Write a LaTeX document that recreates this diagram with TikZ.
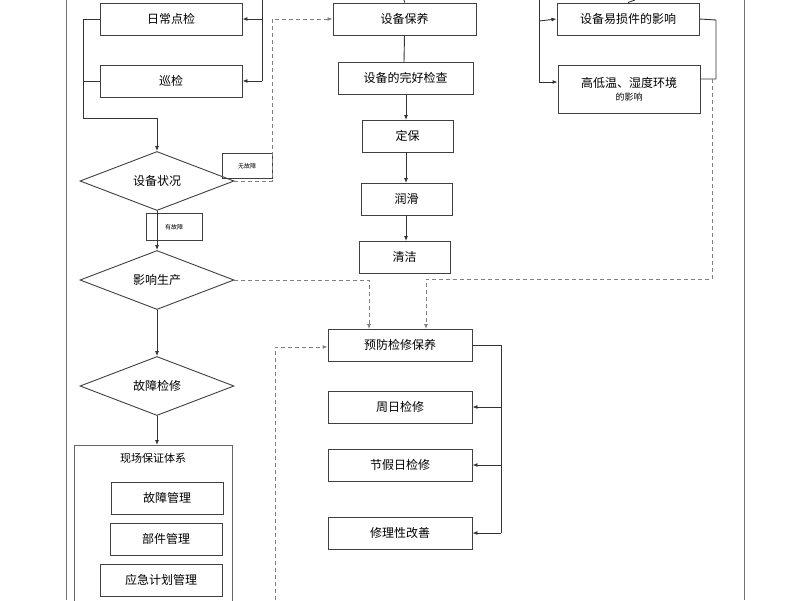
\documentclass[tikz,border=0pt]{standalone}
\usepackage{fontspec}
\setmainfont{Noto Sans CJK SC}
\usetikzlibrary{shapes.geometric,arrows.meta}
\begin{document}
\begin{tikzpicture}[x=1pt,y=-1pt,
  box/.style={draw=black!75,line width=0.9pt,inner sep=0pt,font=\fontsize{12}{14}\selectfont,align=center},
  dia/.style={draw=black!75,line width=0.9pt,diamond,aspect=2.6,inner sep=0pt,minimum width=154pt,minimum height=59pt,font=\fontsize{12}{14}\selectfont},
  lab/.style={draw=black!75,line width=0.8pt,inner sep=0pt,font=\fontsize{6}{7}\selectfont},
  ln/.style={draw=black!80,line width=0.9pt},
  ar/.style={ln,-{Latex[length=5pt,width=4pt]}},
  da/.style={draw=black!50,line width=0.9pt,dashed,dash pattern=on 4pt off 3pt},
  dar/.style={da,-{Latex[length=5pt,width=4pt]}}]
\useasboundingbox (0,0) rectangle (800,600);
\fill[white] (0,0) rectangle (800,600);
\draw[black!55,line width=0.8pt] (66,0)--(66,600);
\draw[black!55,line width=0.8pt] (744,0)--(744,600);
% left column
\node[box,minimum width=142pt,minimum height=32pt] (rc) at (171,19) {日常点检};
\node[box,minimum width=142pt,minimum height=32pt] (xj) at (171,81) {巡检};
\coordinate (t1) at (262,0);
\draw[ln] (t1)--(262,81);
\draw[ar] (262,19)--(rc.east);
\draw[ar] (262,81)--(xj.east);
\node[dia] (zk) at (157,181) {设备状况};
\draw[ln] (rc.west)--(83,19)--(83,118)--(157,118);
\draw[ln] (xj.west)--(83,81);
\draw[ar] (157,118)--(zk.north);
\node[lab,minimum width=50pt,minimum height=25pt] (wg) at (247,166) {无故障};
\node[lab,minimum width=56pt,minimum height=27pt] (yg) at (174,227) {有故障};
\node[dia] (yx) at (157,280) {影响生产};
\draw[ar] (zk.south)--(yx.north);
\node[dia] (gz) at (157,386) {故障检修};
\draw[ar] (yx.south)--(gz.north);
\draw[black!60,line width=0.8pt] (74,445) rectangle (232,605);
\coordinate (xc) at (157,445);
\draw[ar] (gz.south)--(xc);
\node[font=\fontsize{11}{13}\selectfont] (xct) at (153,458) {现场保证体系};
\node[box,minimum width=112pt,minimum height=32pt] (g1) at (167,498) {故障管理};
\node[box,minimum width=112pt,minimum height=32pt] (g2) at (166,539) {部件管理};
\node[box,minimum width=122pt,minimum height=32pt] (g3) at (161,580) {应急计划管理};
% middle column
\node[box,minimum width=143pt,minimum height=32pt] (by) at (404.5,19) {设备保养};
\draw[ln] (404,0)--(by.north);
\node[box,minimum width=135pt,minimum height=32pt] (wh) at (405.5,78) {设备的完好检查};
\node[box,minimum width=91pt,minimum height=32pt] (db) at (407.5,136) {定保};
\node[box,minimum width=91pt,minimum height=32pt] (rh) at (406.5,199) {润滑};
\node[box,minimum width=91pt,minimum height=32pt] (qj) at (404.5,257) {清洁};
\draw[ln] (by.south)--(404,62);
\draw[ar] (406,94)--(406,120);
\draw[ar] (406,152)--(406,183);
\draw[ar] (406,215)--(406,241);
\draw[dar] (zk.east)--(272,181)--(272,19)--(by.west);
% right column
\node[box,minimum width=142pt,minimum height=32pt] (ys) at (628,19) {设备易损件的影响};
\node[box,minimum width=142pt,minimum height=48pt] (gd) at (629,89) {高低温、湿度环境\\[-1pt]{\fontsize{9}{10}\selectfont 的影响}};
\draw[ln] (635,0)--(ys.north);
\draw[ln] (539,0)--(539,82);
\draw[ar] (539,21)--(ys.west);
\draw[ar] (539,82)--(gd.west|-539,82);
\draw[ln] (ys.east)--(716,20)--(716,79)--(700,79);
% preventive
\node[box,minimum width=144pt,minimum height=32pt] (yf) at (400,345) {预防检修保养};
\node[box,minimum width=144pt,minimum height=32pt] (zr) at (400,407) {周日检修};
\node[box,minimum width=144pt,minimum height=32pt] (jj) at (400,465) {节假日检修};
\node[box,minimum width=144pt,minimum height=32pt] (xl) at (400,533) {修理性改善};
\draw[ln] (yf.east)--(501,345)--(501,533);
\draw[ar] (501,407)--(zr.east);
\draw[ar] (501,465)--(jj.east);
\draw[ar] (501,533)--(xl.east);
\draw[dar] (yx.east)--(369,280)--(369,329);
\draw[dar] (712,79)--(712,279)--(426,279)--(426,329);
\coordinate (b1) at (275,600);
\draw[dar] (b1)--(275,347)--(yf.west|-275,347);
\end{tikzpicture}
\end{document}
